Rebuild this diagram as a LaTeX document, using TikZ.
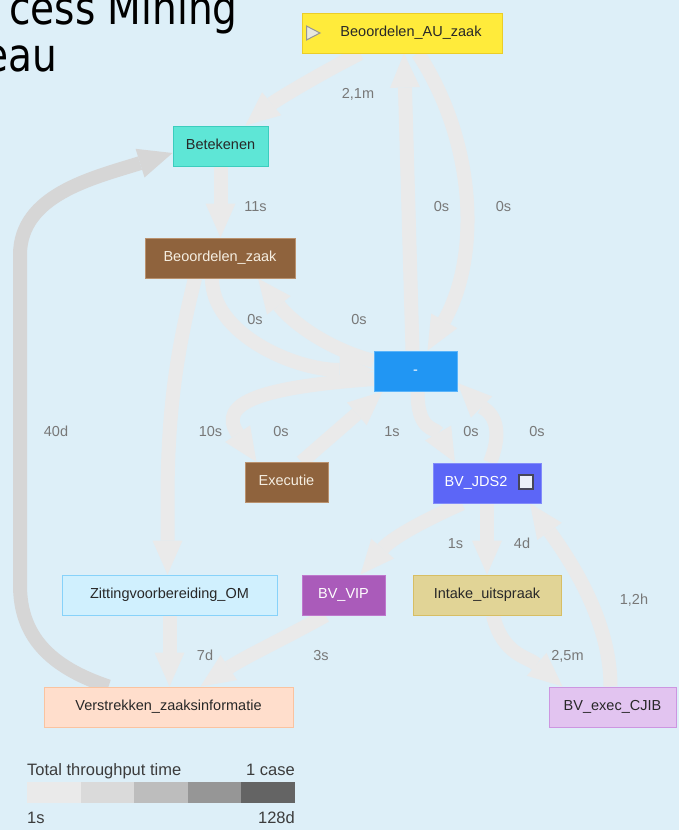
\documentclass[tikz,border=0pt]{standalone}
\usepackage{fontspec}
\setmainfont{Liberation Sans}
\newfontfamily\titlefont{DejaVu Sans}
\usetikzlibrary{arrows.meta}
\pgfdeclarelayer{back}
\pgfdeclarelayer{edges}
\pgfsetlayers{back,edges,main}
\definecolor{bgc}{RGB}{221,239,248}
\definecolor{edgec}{RGB}{234,234,234}
\definecolor{edgedark}{RGB}{214,214,214}
\definecolor{lblc}{RGB}{120,120,120}
\definecolor{darktext}{RGB}{40,40,40}
\definecolor{lighttext}{RGB}{245,238,225}
\definecolor{auc}{RGB}{255,235,59}
\definecolor{aub}{RGB}{235,205,40}
\definecolor{betc}{RGB}{94,230,214}
\definecolor{betb}{RGB}{60,205,190}
\definecolor{brownc}{RGB}{143,99,61}
\definecolor{brownb}{RGB}{185,145,110}
\definecolor{dashc}{RGB}{33,150,243}
\definecolor{dashb}{RGB}{90,180,250}
\definecolor{jdsc}{RGB}{92,102,247}
\definecolor{jdsb}{RGB}{130,140,250}
\definecolor{zitc}{RGB}{208,240,254}
\definecolor{zitb}{RGB}{135,210,250}
\definecolor{vipc}{RGB}{170,91,186}
\definecolor{vipb}{RGB}{190,120,205}
\definecolor{intc}{RGB}{225,212,150}
\definecolor{intb}{RGB}{215,190,100}
\definecolor{verc}{RGB}{255,222,204}
\definecolor{verb}{RGB}{250,195,160}
\definecolor{cjibc}{RGB}{226,196,240}
\definecolor{cjibb}{RGB}{205,150,225}
\definecolor{legtext}{RGB}{60,60,60}
\definecolor{trifill}{RGB}{232,232,222}
\definecolor{tridraw}{RGB}{150,150,150}
\definecolor{chkdraw}{RGB}{70,70,90}
\definecolor{chkfill}{RGB}{235,240,250}
\definecolor{sega}{RGB}{234,234,234}
\definecolor{segb}{RGB}{218,218,218}
\definecolor{segc}{RGB}{189,189,189}
\definecolor{segd}{RGB}{150,150,150}
\definecolor{sege}{RGB}{100,100,100}
\begin{document}
\begin{tikzpicture}[x=1pt,y=-1pt,
  box/.style={rectangle, minimum height=40pt, inner sep=0pt, line width=1pt,
    text height=9pt, text depth=2.5pt, font=\fontsize{14.5}{16}\selectfont},
  flow/.style={line width=14pt, draw=edgec, -{Triangle[width=30pt,length=34pt,line width=0pt]}},
  flowdark/.style={flow, draw=edgedark},
  lbl/.style={text=lblc, font=\fontsize{14.5}{16}\selectfont, inner sep=0pt, anchor=base},
  legtxt/.style={text=legtext, font=\fontsize{16.5}{18}\selectfont, inner sep=0pt},
  ttl/.style={anchor=base east, inner sep=0pt, text=black, font=\titlefont\fontsize{46}{46}\selectfont}]
\useasboundingbox (0,0) rectangle (679,830);
\begin{pgfonlayer}{back}
  \fill[bgc] (0,0) rectangle (679,830);
\end{pgfonlayer}

% title fragments
\node[ttl] (t1) at (238,24) {\scalebox{0.85}[1]{cess Mining}};
\node[ttl] (t2) at (57,71) {\scalebox{0.85}[1]{eau}};

% nodes
\node[box, minimum width=200pt, fill=auc, draw=aub, text=darktext] (AU) at (402,33) {\hspace*{18pt}Beoordelen\_AU\_zaak};
\draw[fill=trifill, draw=tridraw, line width=1pt] (306.5,26) -- (320,33) -- (306.5,40) -- cycle;
\node[box, minimum width=95pt, fill=betc, draw=betb, text=darktext] (BET) at (220.5,146) {Betekenen};
\node[box, minimum width=150pt, fill=brownc, draw=brownb, text=lighttext] (BZ) at (220,258) {Beoordelen\_zaak};
\node[box, minimum width=83pt, fill=dashc, draw=dashb, text=white] (DASH) at (415.5,371) {-};
\node[box, minimum width=83pt, fill=brownc, draw=brownb, text=lighttext] (EX) at (286.5,482.5) {Executie};
\node[box, minimum width=108pt, fill=jdsc, draw=jdsb, text=white] (JDS) at (487,483) {BV\_JDS2\hspace*{22pt}};
\node[draw=chkdraw, fill=chkfill, line width=1.2pt, minimum size=14pt, inner sep=0pt] (CHK) at (526,482) {};
\node[box, minimum width=215pt, fill=zitc, draw=zitb, text=darktext] (ZIT) at (169.5,595) {Zittingvoorbereiding\_OM};
\node[box, minimum width=83pt, fill=vipc, draw=vipb, text=white] (VIP) at (343.5,595) {BV\_VIP};
\node[box, minimum width=148pt, fill=intc, draw=intb, text=darktext] (INT) at (487,595) {Intake\_uitspraak};
\node[box, minimum width=249pt, fill=verc, draw=verb, text=darktext] (VER) at (168.5,707) {Verstrekken\_zaaksinformatie};
\node[box, minimum width=127pt, fill=cjibc, draw=cjibb, text=darktext] (CJIB) at (612.5,707) {BV\_exec\_CJIB};

\coordinate (w1) at (20,585);
\coordinate (w2) at (20,255);

% connectors
\begin{pgfonlayer}{edges}
\draw[flowdark] ([xshift=-60pt]VER.north) .. controls +(-60,-20) and +(0,50) .. (w1) -- (w2) .. controls +(0,-60) and +(-80,25) .. ([yshift=-7pt]BET.west);
\draw[flow] ([xshift=-42pt]AU.south) .. controls +(-40,20) and +(30,-25) .. ([xshift=25pt]BET.north);
\draw[flow] (BET.south) -- (BET.south |- BZ.north);
\draw[flow] ([xshift=-25pt]BZ.south) .. controls +(-15,60) and +(0,-100) .. ([xshift=-2pt,yshift=75pt]ZIT.north) -- ([xshift=-2pt]ZIT.north);
\draw[flow] ([xshift=-8pt]BZ.south) .. controls +(0,55) and +(-80,0) .. ([yshift=1pt]DASH.west);
\draw[flow] ([yshift=10pt]DASH.west) .. controls +(-45,-12) and +(35,45) .. ([xshift=38pt]BZ.south);
\draw[flow] ([yshift=-8pt]DASH.west) .. controls +(-110,8) and +(-40,-60) .. ([xshift=-30pt]EX.north);
\draw[flow] ([xshift=15pt]EX.north) -- ([xshift=-33pt]DASH.south);
\draw[flow] ([xshift=2pt]DASH.south) .. controls +(0,40) and +(-20,-35) .. ([xshift=-32pt]JDS.north);
\draw[flow] ([xshift=3pt]JDS.north) .. controls +(18,-45) and +(25,25) .. ([yshift=-12pt]DASH.east);
\draw[flow] ([xshift=-3pt]DASH.north) -- ([xshift=2pt]AU.south);
\draw[flow] ([xshift=16pt]AU.south) .. controls +(57,87) and +(54,-96) .. ([xshift=12pt]DASH.north);
\draw[flow] (ZIT.south) -- (ZIT.south |- VER.north);
\draw[flow] ([xshift=-18pt]VIP.south) .. controls +(-45,25) and +(45,-30) .. ([xshift=32pt]VER.north);
\draw[flow] ([xshift=-25pt]JDS.south) .. controls +(-45,20) and +(30,-35) .. ([xshift=17pt]VIP.north);
\draw[flow] (JDS.south) -- (JDS.south |- INT.north);
\draw[flow] ([xshift=6pt]INT.south) .. controls +(10,40) and +(-35,-30) .. ([xshift=-50pt]CJIB.north);
\draw[flow] ([xshift=-2pt]CJIB.north) .. controls +(0,-70) and +(35,50) .. ([xshift=43pt]JDS.south);
\end{pgfonlayer}

% connector labels
\node[lbl] (l1) at (358,98) {2,1m};
\node[lbl] (l2) at (255.5,211) {11s};
\node[lbl] (l3) at (441.5,211) {0s};
\node[lbl] (l4) at (503.5,211) {0s};
\node[lbl] (l5) at (255,324) {0s};
\node[lbl] (l6) at (359,324) {0s};
\node[lbl] (l7) at (56,436) {40d};
\node[lbl] (l8) at (210.5,436) {10s};
\node[lbl] (l9) at (281,436) {0s};
\node[lbl] (l10) at (392,436) {1s};
\node[lbl] (l11) at (471,436) {0s};
\node[lbl] (l12) at (537,436) {0s};
\node[lbl] (l13) at (455.5,548) {1s};
\node[lbl] (l14) at (522,548) {4d};
\node[lbl] (l15) at (634,604) {1,2h};
\node[lbl] (l16) at (205,660) {7d};
\node[lbl] (l17) at (321,660) {3s};
\node[lbl] (l18) at (567.5,660) {2,5m};

% legend
\node[legtxt, anchor=base west] (lg1) at (27,775) {Total throughput time};
\node[legtxt, anchor=base east] (lg2) at (295,775) {1 case};
\fill[sega] (27,782) rectangle (80.6,803);
\fill[segb] (80.6,782) rectangle (134.2,803);
\fill[segc] (134.2,782) rectangle (187.8,803);
\fill[segd] (187.8,782) rectangle (241.4,803);
\fill[sege] (241.4,782) rectangle (295,803);
\node[legtxt, anchor=base west] (lg3) at (27,823) {1s};
\node[legtxt, anchor=base east] (lg4) at (295,823) {128d};
\end{tikzpicture}
\end{document}
